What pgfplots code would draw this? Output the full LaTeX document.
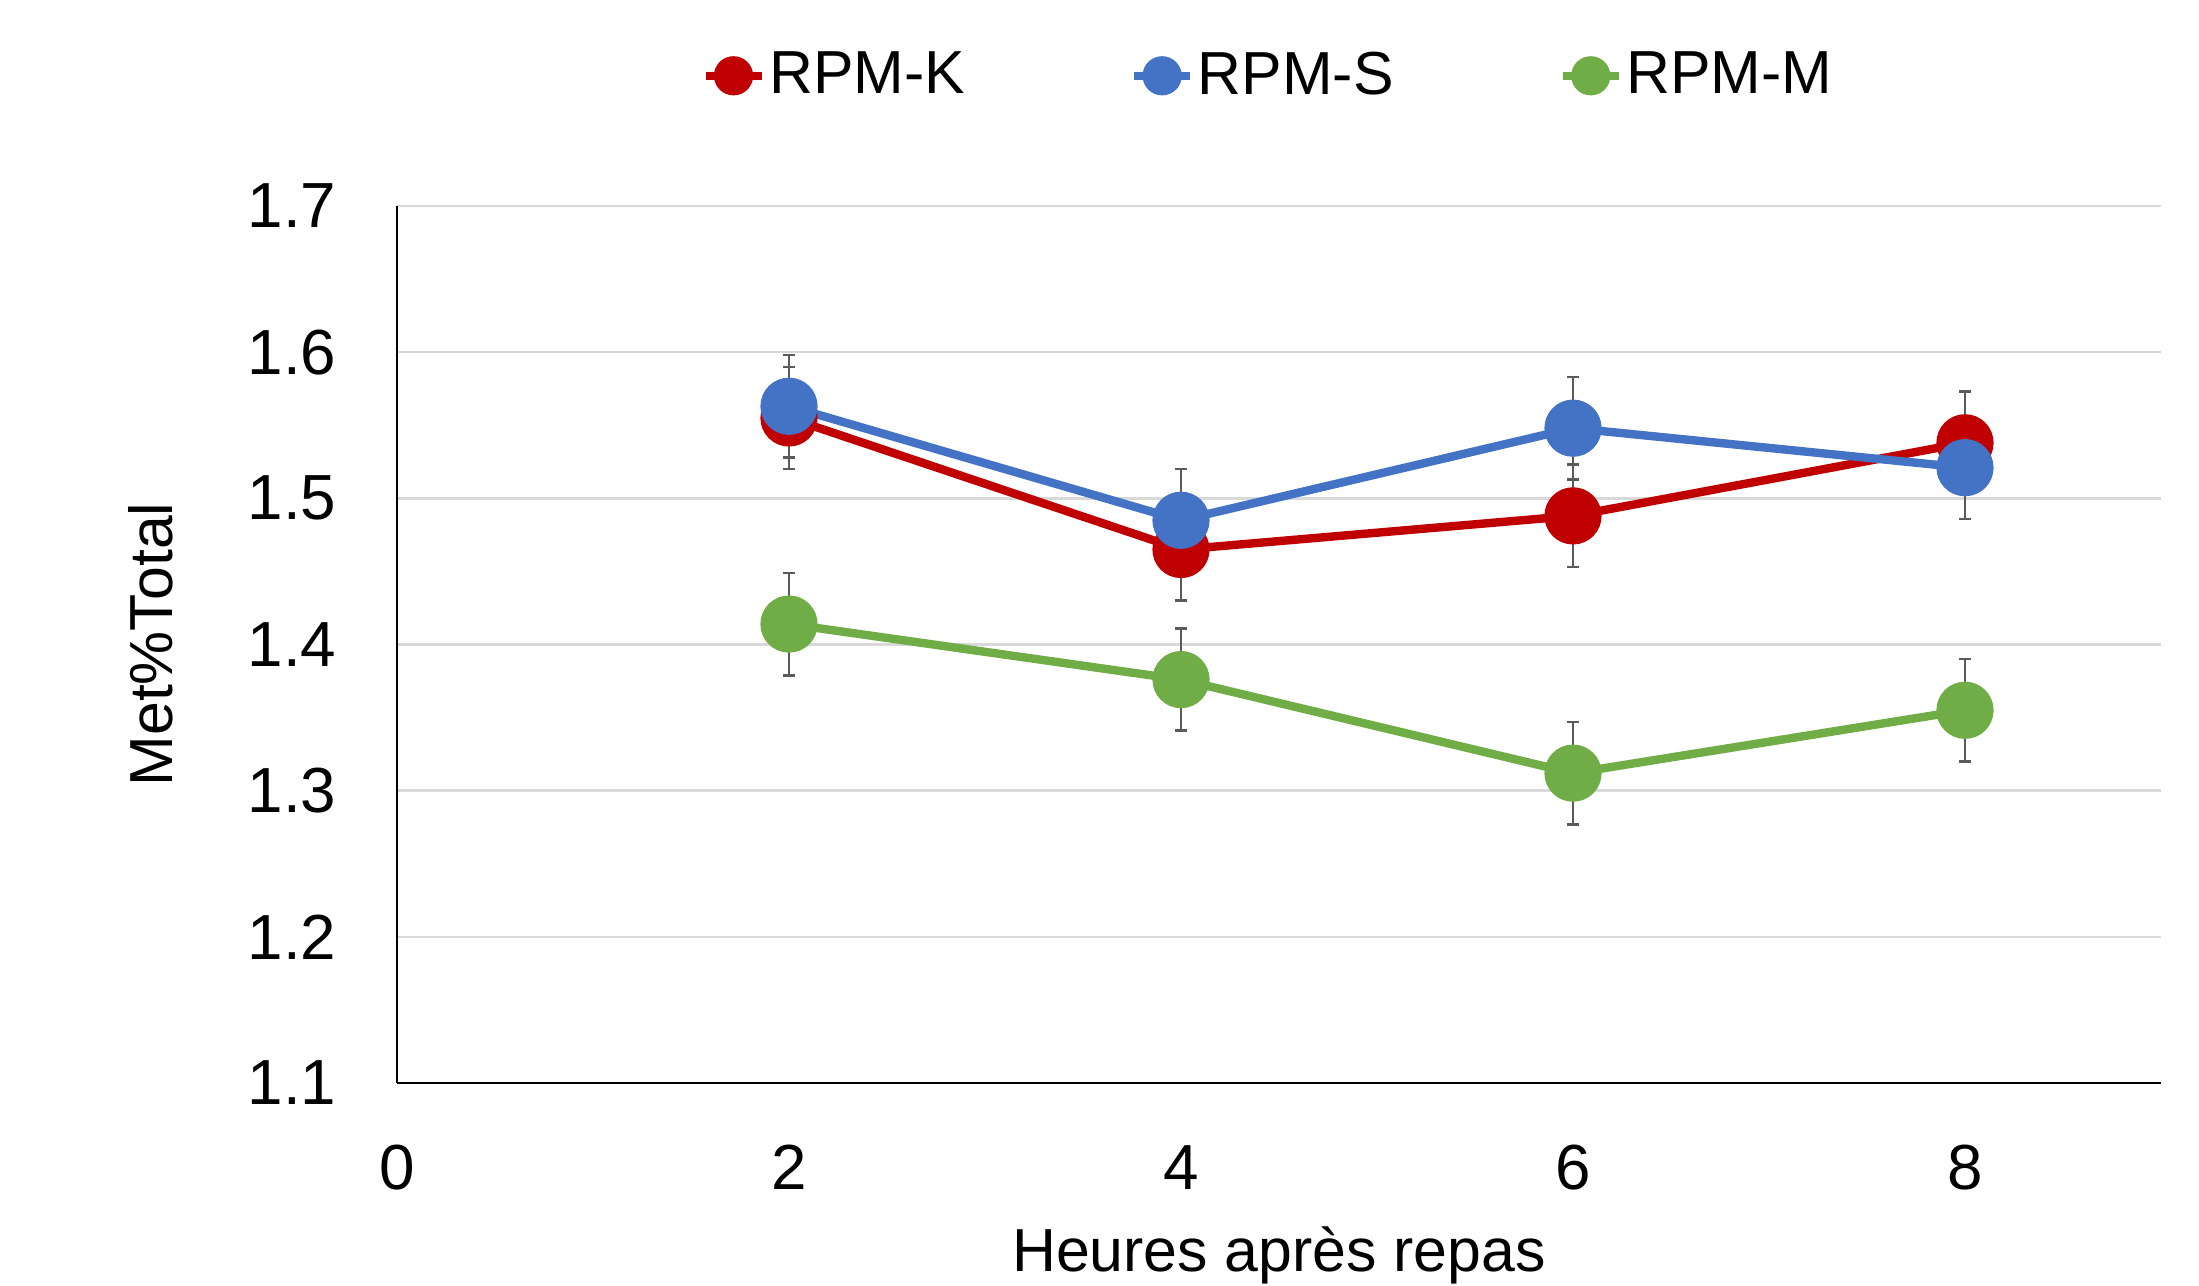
\documentclass[border=0pt]{standalone}
\usepackage{fontspec}
\setmainfont{Liberation Sans}
\usepackage{pgfplots}
\pgfplotsset{compat=1.18}
\definecolor{cK}{HTML}{C00000}
\definecolor{cS}{HTML}{4472C4}
\definecolor{cM}{HTML}{70AD47}
\definecolor{gridc}{HTML}{D9D9D9}
\definecolor{errc}{HTML}{5A5A5A}
\begin{document}
\begin{tikzpicture}
\begin{axis}[name=ax, scale only axis, width=441bp, height=219.25bp,
  xmin=0, xmax=9, ymin=1.1, ymax=1.7,
  xtick={0,2,4,6,8}, ytick={1.1,1.2,1.3,1.4,1.5,1.6,1.7},
  axis x line*=bottom, axis y line*=left,
  axis line style={-, line width=0.6bp, black},
  major tick length=0pt,
  ymajorgrids, grid style={gridc, line width=0.6bp},
  /pgf/number format/assume math mode=true,
  ticklabel style={font=\fontsize{16}{19}\selectfont, inner sep=0pt},
  yticklabel style={anchor=east, xshift=-15bp, /pgf/number format/.cd, fixed, fixed zerofill, precision=1},
  xticklabel style={anchor=base, yshift=-26.5bp},
  xlabel={Heures après repas},
  xlabel style={at={(axis description cs:0.5,-0.2149)}, anchor=base, font=\fontsize{15.25}{18}\selectfont, inner sep=0pt},
  ylabel={Met\%Total},
  ylabel style={at={(axis description cs:-0.1397,0.5)}, anchor=center, rotate=0, font=\fontsize{15.25}{18}\selectfont, inner sep=0pt},
  legend style={at={(axis description cs:0.1723,1.1485)}, anchor=west, draw=none, fill=none,
    inner sep=0pt, nodes={inner sep=0pt, font=\fontsize{15.25}{18}\selectfont},
    /tikz/every even column/.append style={column sep=41.3bp},
    /tikz/every odd column/.append style={column sep=1bp}},
  legend columns=3,
  legend image code/.code={
    \draw[#1, mark=none, line width=1.9bp] (0bp,0bp) -- (14bp,0bp);
    \fill[#1, draw=none] (7bp,0bp) circle[radius=4.9bp];},
  every axis plot/.append style={line width=2.1bp, mark=*, mark size=6.1bp,
    error bars/y dir=both, error bars/y explicit,
    error bars/error bar style={errc, line width=0.65bp},
    error bars/error mark options={errc, rotate=90, mark size=1.5bp, line width=0.65bp}},
]
\addplot[cK, mark options={solid, fill=cK, draw=none}] coordinates {
  (2,1.555) +- (0,0.035)
  (4,1.465) +- (0,0.035)
  (6,1.488) +- (0,0.035)
  (8,1.538) +- (0,0.035)
};
\addlegendentry{RPM-K}
\addplot[cS, mark options={solid, fill=cS, draw=none}] coordinates {
  (2,1.563) +- (0,0.035)
  (4,1.485) +- (0,0.035)
  (6,1.548) +- (0,0.035)
  (8,1.521) +- (0,0.035)
};
\addlegendentry{RPM-S}
\addplot[cM, mark options={solid, fill=cM, draw=none}] coordinates {
  (2,1.414) +- (0,0.035)
  (4,1.376) +- (0,0.035)
  (6,1.312) +- (0,0.035)
  (8,1.355) +- (0,0.035)
};
\addlegendentry{RPM-M}
\end{axis}
\pgfresetboundingbox
\path[use as bounding box] (ax.south west) ++(-99.25bp,-50.75bp) rectangle ++(549.75bp,321.5bp);
\end{tikzpicture}
\end{document}
